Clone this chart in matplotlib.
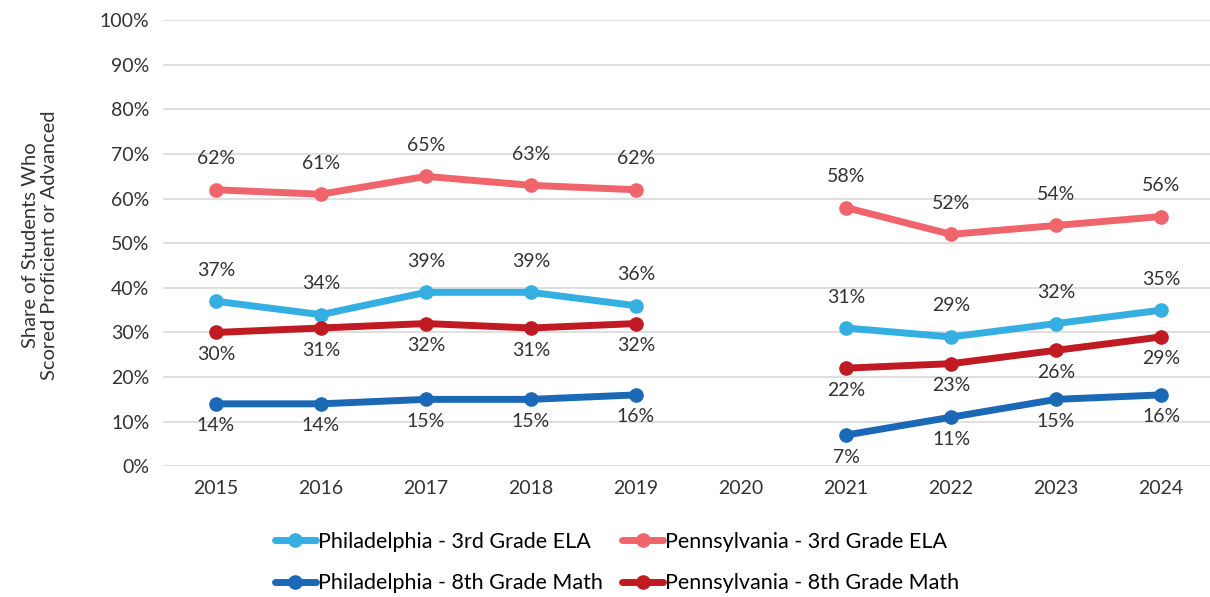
import numpy as np
import matplotlib
matplotlib.use("Agg")
from matplotlib import pyplot as plt

plt.rcParams['font.family'] = ['Lato', 'DejaVu Sans']

years = ['2015', '2016', '2017', '2018', '2019', '2020', '2021', '2022', '2023', '2024']
nan = np.nan
phl_ela = [37, 34, 39, 39, 36, nan, 31, 29, 32, 35]
pa_ela = [62, 61, 65, 63, 62, nan, 58, 52, 54, 56]
phl_math = [14, 14, 15, 15, 16, nan, 7, 11, 15, 16]
pa_math = [30, 31, 32, 31, 32, nan, 22, 23, 26, 29]

series = [
    ('Philadelphia - 3rd Grade ELA', phl_ela, '#35aee2', 'above'),
    ('Pennsylvania - 3rd Grade ELA', pa_ela, '#f0656b', 'above'),
    ('Philadelphia - 8th Grade Math', phl_math, '#1b69b6', 'below'),
    ('Pennsylvania - 8th Grade Math', pa_math, '#c01a22', 'below'),
]

fig = plt.figure(figsize=(12.1, 5.97), dpi=100)
ax = fig.add_axes([0.135, 0.219, 0.868, 0.747])

x = np.arange(len(years))
handles = []
for name, vals, col, pos in series:
    h, = ax.plot(x, vals, color=col, lw=5, marker='o', ms=9.5, label=name,
                 solid_capstyle='round')
    handles.append(h)
    for xi, v in zip(x, vals):
        if np.isnan(v):
            continue
        dy = 31 if pos == 'above' else -22
        ax.annotate(f'{v:.0f}%', (xi, v), xytext=(0, dy), textcoords='offset pixels',
                    ha='center', va='center', fontsize=14, color='#333333')

ax.set_ylim(0, 100)
ax.set_xlim(-0.5, len(years) - 0.5)
ax.set_yticks(range(0, 101, 10))
ax.set_yticklabels([f'{t}%' for t in range(0, 101, 10)])
ax.set_xticks(x)
ax.set_xticklabels(years)
ax.tick_params(length=0, labelsize=14, colors='#333333', pad=10)
ax.grid(axis='y', color='#d9d9d9', lw=1.2)
ax.set_axisbelow(True)
for s in ax.spines.values():
    s.set_visible(False)

fig.text(0.033, 0.59, 'Share of Students Who\nScored Proficient or Advanced', rotation=90,
         ha='center', va='center', fontsize=14.5, color='#333333')

# row-wise legend order
order = [0, 2, 1, 3]
fig.legend([handles[i] for i in order], [series[i][0] for i in order],
           loc='center', bbox_to_anchor=(0.51, 0.058), ncol=2, frameon=False,
           fontsize=15.5, handlelength=1.9, handletextpad=0.1, columnspacing=0.9,
           labelspacing=1.0)

fig.savefig('out.png', dpi=100)
